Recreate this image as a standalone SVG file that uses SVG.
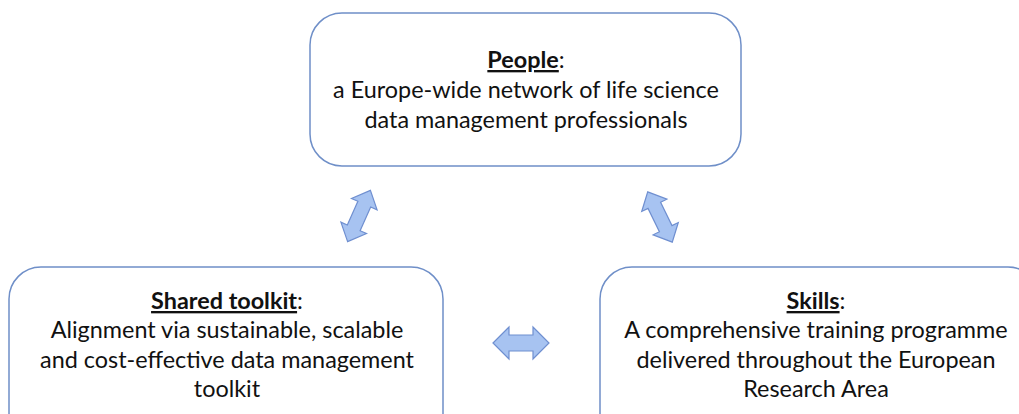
<svg xmlns="http://www.w3.org/2000/svg" width="1019" height="414" viewBox="0 0 1019 414">
<style>
.box{fill:#ffffff;stroke:#6f8fc8;stroke-width:1.5}
.t{font-family:Lato,"Open Sans",sans-serif;font-size:23.4px;fill:#111;text-anchor:middle}
.h{font-weight:bold;text-decoration:underline}
.arr{fill:#a7c3f1;stroke:#6f8fd0;stroke-width:1.2;stroke-linejoin:miter}
</style>
<defs>
<path id="dbl" d="M-28,0 L-13,-14 L-13,-7 L13,-7 L13,-14 L28,0 L13,14 L13,7 L-13,7 L-13,14 Z"/>
<path id="dblh" d="M-28,0 L-12,-16 L-12,-8 L12,-8 L12,-16 L28,0 L12,16 L12,8 L-12,8 L-12,16 Z"/>
</defs>
<g id="people">
<rect class="box" x="310" y="13" width="431" height="153" rx="32"/>
<text class="t" x="526" y="68"><tspan class="h">People</tspan>:</text>
<text class="t" x="526" y="98">a Europe-wide network of life science</text>
<text class="t" x="526" y="128">data management professionals</text>
</g>
<g id="toolkit">
<rect class="box" x="9" y="267" width="434" height="180" rx="32"/>
<text class="t" x="227" y="309"><tspan class="h">Shared toolkit</tspan>:</text>
<text class="t" x="227" y="338">Alignment via sustainable, scalable</text>
<text class="t" x="227" y="368">and cost-effective data management</text>
<text class="t" x="227" y="397">toolkit</text>
</g>
<g id="skills">
<rect class="box" x="600" y="267" width="440" height="180" rx="32"/>
<text class="t" x="816" y="309"><tspan class="h">Skills</tspan>:</text>
<text class="t" x="816" y="338">A comprehensive training programme</text>
<text class="t" x="816" y="368">delivered throughout the European</text>
<text class="t" x="816" y="397">Research Area</text>
</g>
<g id="connectors">
<use href="#dbl" class="arr" transform="translate(359,216) rotate(-66)"/>
<use href="#dbl" class="arr" transform="translate(660,217) rotate(64)"/>
<use href="#dblh" class="arr" transform="translate(521,343)"/>
</g>
</svg>
